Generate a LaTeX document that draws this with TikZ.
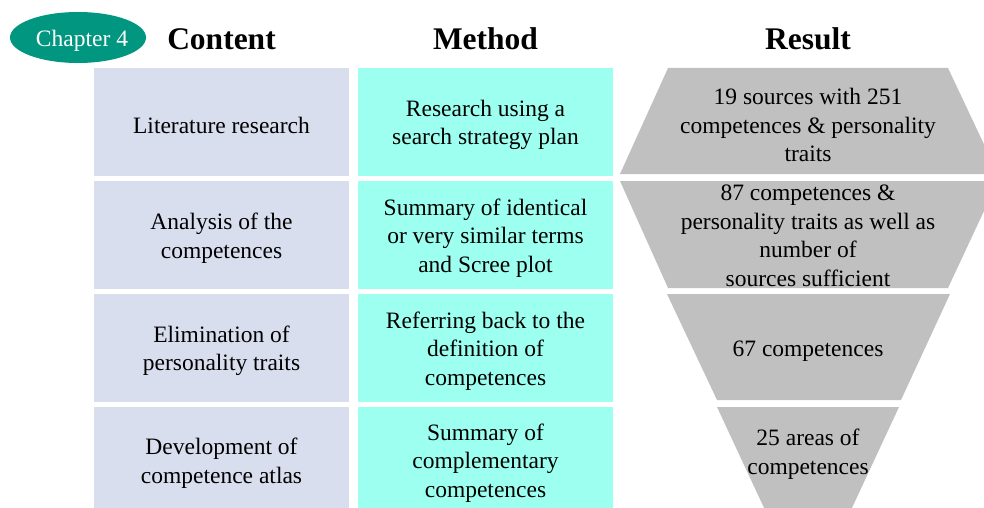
\documentclass[tikz,border=0pt]{standalone}
\usepackage{fontspec}
\setmainfont{Liberation Serif}
\usetikzlibrary{shapes.geometric}
\definecolor{lav}{RGB}{217,222,239}
\definecolor{cyanbox}{RGB}{156,255,240}
\definecolor{graybox}{RGB}{192,192,192}
\definecolor{tealc}{RGB}{0,150,128}
\tikzset{
  body/.style={font=\fontsize{23.5}{28.5}\selectfont, align=center, text=black, inner sep=0pt},
  head/.style={font=\fontsize{31.5}{36}\selectfont\bfseries, anchor=base, inner sep=0pt},
  contentbox/.style={fill=lav, minimum width=255pt, inner sep=0pt},
  methodbox/.style={fill=cyanbox, minimum width=255pt, inner sep=0pt},
  resultfill/.style={fill=graybox},
}
\begin{document}
\begin{tikzpicture}[x=1pt,y=-1pt]
\useasboundingbox (0,0) rectangle (984,508);
% chapter badge
\node[ellipse, fill=tealc, minimum width=136pt, minimum height=51pt, inner sep=0pt] (chap) at (78,37.5) {};
\node[text=white, font=\fontsize{23.5}{27.6}\selectfont, inner sep=0pt, anchor=base] (chaptxt) at (82,46.5) {Chapter 4};
% headers
\node[head] (hc) at (221.5,50) {Content};
\node[head] (hm) at (485.5,50) {Method};
\node[head] (hr) at (808,50) {Result};
% content boxes
\node[contentbox, minimum height=108pt] (c1) at (221.5,122) {};
\node[contentbox, minimum height=108pt] (c2) at (221.5,235) {};
\node[contentbox, minimum height=108pt] (c3) at (221.5,348) {};
\node[contentbox, minimum height=101pt] (c4) at (221.5,457.5) {};
\node[body] (c1t) at (221.5,125) {Literature research};
\node[body] (c2t) at (221.5,238) {Analysis of the\\competences};
\node[body] (c3t) at (221.5,351) {Elimination of\\personality traits};
\node[body] (c4t) at (221.5,463) {Development of\\competence atlas};
% method boxes
\node[methodbox, minimum height=108pt] (m1) at (485.5,122) {};
\node[methodbox, minimum height=108pt] (m2) at (485.5,235) {};
\node[methodbox, minimum height=108pt] (m3) at (485.5,348) {};
\node[methodbox, minimum height=101pt] (m4) at (485.5,457.5) {};
\node[body] (m1t) at (485.5,125) {Research using a\\search strategy plan};
\node[body] (m2t) at (485.5,238) {Summary of identical\\or very similar terms\\and Scree plot};
\node[body] (m3t) at (485.5,351) {Referring back to the\\definition of\\competences};
\node[body] (m4t) at (485.5,463) {Summary of\\complementary\\competences};
% result trapezoids
\fill[resultfill] (668,68) -- (948,68) -- (998,174) -- (620,174) -- cycle;
\fill[resultfill] (620,181) -- (998,181) -- (948,288) -- (668,288) -- cycle;
\fill[resultfill] (667,294) -- (950,294) -- (901,400) -- (717,400) -- cycle;
\fill[resultfill] (717,407) -- (899,407) -- (851,510) -- (765,510) -- cycle;
\node[body] (r1) at (808,125) {19 sources with 251\\competences \& personality\\traits};
\node[body] (r2) at (808,236) {87 competences \&\\personality traits as well as\\number of\\sources sufficient};
\node[body] (r3) at (808,351) {67 competences};
\node[body] (r4) at (808,454) {25 areas of\\competences};
\end{tikzpicture}
\end{document}
